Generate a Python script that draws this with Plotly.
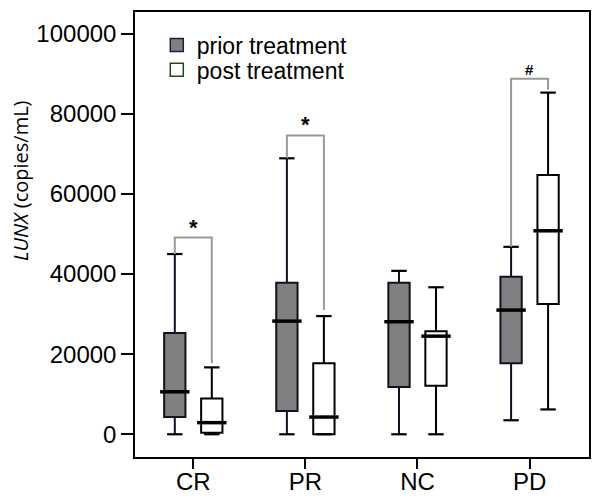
import plotly.graph_objects as go

# --- data ---
groups = ["CR", "PR", "NC", "PD"]

prior_low = [0, 0, 0, 3500]
prior_q1 = [4300, 5800, 11800, 17700]
prior_med = [10600, 28250, 28100, 31000]
prior_q3 = [25300, 37800, 37800, 39300]
prior_high = [45000, 68900, 40800, 46800]

post_low = [0, 0, 0, 6200]
post_q1 = [400, 0, 12100, 32500]
post_med = [2900, 4300, 24500, 50800]
post_q3 = [8900, 17700, 25750, 64750]
post_high = [16700, 29500, 36700, 85300]

# significance brackets: top of bracket, right-leg end, sign
br_top = [49100, 74600, None, 88750]
br_right = [17700, 31000, None, 86000]
br_sign = ["*", "*", "", "#"]

OFF = 0.165     # half distance between paired boxes
BW = 0.19       # box width (category units)
FONT = "Liberation Sans, Arial, sans-serif"

xi = list(range(len(groups)))
x_prior = [i - OFF for i in xi]
x_post = [i + OFF for i in xi]

fig = go.Figure()

def add_box(xs, lo, q1, med, q3, hi, fill, edge):
    fig.add_trace(go.Box(
        x=xs, lowerfence=lo, q1=q1, median=med, q3=q3, upperfence=hi,
        width=BW, fillcolor=fill, line=dict(color=edge, width=2),
        whiskerwidth=0, showlegend=False, hoverinfo="skip",
    ))
    # whisker caps
    fig.add_trace(go.Scatter(
        x=xs + xs, y=lo + hi, mode="markers", showlegend=False, hoverinfo="skip",
        marker=dict(symbol="line-ew", size=11, line=dict(color="black", width=2.2)),
    ))
    # thick median
    fig.add_trace(go.Scatter(
        x=xs, y=med, mode="markers", showlegend=False, hoverinfo="skip",
        marker=dict(symbol="line-ew", size=21, line=dict(color="black", width=3.5)),
    ))

add_box(x_prior, prior_low, prior_q1, prior_med, prior_q3, prior_high, "#808080", "#111122")
add_box(x_post, post_low, post_q1, post_med, post_q3, post_high, "white", "black")

# brackets
for i, top in enumerate(br_top):
    if top is None:
        continue
    fig.add_trace(go.Scatter(
        x=[x_prior[i], x_prior[i], x_post[i], x_post[i]],
        y=[prior_high[i], top, top, br_right[i]],
        mode="lines", line=dict(color="#999999", width=2),
        showlegend=False, hoverinfo="skip",
    ))
    star = br_sign[i] == "*"
    fig.add_annotation(
        x=i, y=top, text="<b>%s</b>" % br_sign[i], showarrow=False,
        yanchor="bottom", yshift=-4 if star else -1,
        font=dict(size=22 if star else 15, color="black", family=FONT),
    )

# legend entries (two legends so the rows sit tight like the original)
fig.add_trace(go.Scatter(
    x=[None], y=[None], mode="markers", name="prior treatment", legend="legend",
    marker=dict(symbol="square", size=13, color="#808080", line=dict(color="#1c1c3c", width=1.5)),
))
fig.add_trace(go.Scatter(
    x=[None], y=[None], mode="markers", name="post treatment", legend="legend2",
    marker=dict(symbol="square", size=13, color="white", line=dict(color="#1f4a1f", width=1.5)),
))

fig.add_annotation(
    xref="paper", yref="paper", x=-0.2535, y=0.622, textangle=-90,
    xanchor="center", yanchor="middle",
    text="<i>LUNX</i> (copies/mL)", showarrow=False,
    font=dict(size=20, color="black", family="Open Sans, sans-serif"),
)

leg = dict(x=0.048, xanchor="left", yanchor="middle", font=dict(size=23),
           bgcolor="rgba(0,0,0,0)", itemwidth=30)

# the page body adds an 8px margin, so the figure is 8px smaller and shifted
fig.update_layout(
    width=592, height=494,
    margin=dict(l=127, r=11, t=4, b=45),
    plot_bgcolor="white", paper_bgcolor="white",
    font=dict(family=FONT, size=24, color="black"),
    legend=dict(leg, y=0.926),
    legend2=dict(leg, y=0.870),
    xaxis=dict(range=[-0.52, 3.53], tickvals=xi, ticktext=groups, automargin=False,
               showgrid=False, zeroline=False, showline=True, mirror=True,
               linecolor="black", linewidth=1.5, ticklabelstandoff=-8,
               ticks="outside", ticklen=10, tickwidth=1.5, tickcolor="black"),
    yaxis=dict(range=[-5675, 105425], tickvals=[0, 20000, 40000, 60000, 80000, 100000],
               tickformat="d", automargin=False, showgrid=False, zeroline=False,
               showline=True, mirror=True, linecolor="black", linewidth=1.5,
               ticks="outside", ticklen=12, tickwidth=1.5, tickcolor="black"),
)

fig.write_html("out.html")
